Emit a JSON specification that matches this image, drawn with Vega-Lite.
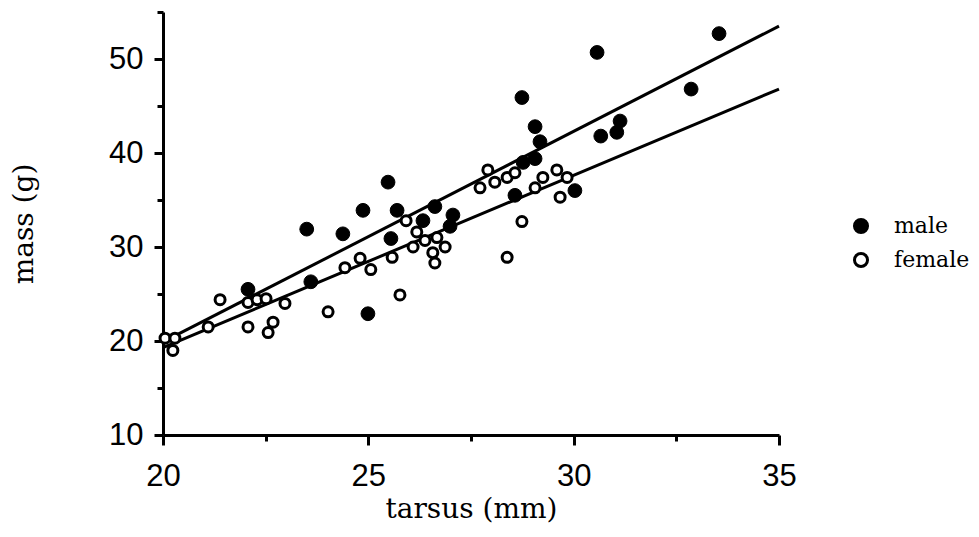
{
  "$schema": "https://vega.github.io/schema/vega-lite/v6.json",
  "autosize": "none",
  "padding": {"left": 163, "top": 12, "right": 200, "bottom": 102},
  "width": 616,
  "height": 423,
  "background": "white",
  "config": {
    "view": {"stroke": null},
    "axis": {
      "grid": false,
      "domainColor": "black",
      "domainWidth": 3,
      "tickColor": "black",
      "tickWidth": 3,
      "labelColor": "black",
      "titleColor": "black",
      "labelFont": "Liberation Sans",
      "labelFontSize": 31,
      "titleFont": "DejaVu Serif",
      "titleFontSize": 28,
      "titleFontWeight": "normal"
    }
  },
  "datasets": {
    "birds": [
      {"sex": "male", "tarsus": 22.07, "mass": 25.5},
      {"sex": "male", "tarsus": 23.5, "mass": 31.9},
      {"sex": "male", "tarsus": 23.6, "mass": 26.3},
      {"sex": "male", "tarsus": 24.38, "mass": 31.4},
      {"sex": "male", "tarsus": 24.87, "mass": 33.9},
      {"sex": "male", "tarsus": 24.99, "mass": 22.9},
      {"sex": "male", "tarsus": 25.48, "mass": 36.9},
      {"sex": "male", "tarsus": 25.55, "mass": 30.9},
      {"sex": "male", "tarsus": 25.7, "mass": 33.9},
      {"sex": "male", "tarsus": 26.33, "mass": 32.8},
      {"sex": "male", "tarsus": 26.62, "mass": 34.3},
      {"sex": "male", "tarsus": 27.06, "mass": 33.4},
      {"sex": "male", "tarsus": 26.99, "mass": 32.2},
      {"sex": "male", "tarsus": 28.57, "mass": 35.5},
      {"sex": "male", "tarsus": 28.77, "mass": 39.0},
      {"sex": "male", "tarsus": 28.74, "mass": 45.9},
      {"sex": "male", "tarsus": 29.06, "mass": 42.8},
      {"sex": "male", "tarsus": 29.18, "mass": 41.2},
      {"sex": "male", "tarsus": 29.06, "mass": 39.4},
      {"sex": "male", "tarsus": 30.03, "mass": 36.0},
      {"sex": "male", "tarsus": 30.57, "mass": 50.7},
      {"sex": "male", "tarsus": 30.66, "mass": 41.8},
      {"sex": "male", "tarsus": 31.05, "mass": 42.2},
      {"sex": "male", "tarsus": 31.13, "mass": 43.4},
      {"sex": "male", "tarsus": 32.86, "mass": 46.8},
      {"sex": "male", "tarsus": 33.54, "mass": 52.7},
      {"sex": "female", "tarsus": 20.05, "mass": 20.3},
      {"sex": "female", "tarsus": 20.29, "mass": 20.3},
      {"sex": "female", "tarsus": 20.24, "mass": 19.0},
      {"sex": "female", "tarsus": 21.1, "mass": 21.5},
      {"sex": "female", "tarsus": 21.39, "mass": 24.4},
      {"sex": "female", "tarsus": 22.07, "mass": 21.5},
      {"sex": "female", "tarsus": 22.07, "mass": 24.1},
      {"sex": "female", "tarsus": 22.29, "mass": 24.4},
      {"sex": "female", "tarsus": 22.51, "mass": 24.5},
      {"sex": "female", "tarsus": 22.68, "mass": 22.0},
      {"sex": "female", "tarsus": 22.56, "mass": 20.9},
      {"sex": "female", "tarsus": 22.97, "mass": 24.0},
      {"sex": "female", "tarsus": 24.02, "mass": 23.1},
      {"sex": "female", "tarsus": 24.43, "mass": 27.8},
      {"sex": "female", "tarsus": 24.8, "mass": 28.8},
      {"sex": "female", "tarsus": 25.06, "mass": 27.6},
      {"sex": "female", "tarsus": 25.58, "mass": 28.9},
      {"sex": "female", "tarsus": 25.77, "mass": 24.9},
      {"sex": "female", "tarsus": 25.92, "mass": 32.8},
      {"sex": "female", "tarsus": 26.18, "mass": 31.6},
      {"sex": "female", "tarsus": 26.09, "mass": 30.0},
      {"sex": "female", "tarsus": 26.38, "mass": 30.7},
      {"sex": "female", "tarsus": 26.67, "mass": 31.0},
      {"sex": "female", "tarsus": 26.87, "mass": 30.0},
      {"sex": "female", "tarsus": 26.57, "mass": 29.4},
      {"sex": "female", "tarsus": 26.62, "mass": 28.3},
      {"sex": "female", "tarsus": 27.72, "mass": 36.3},
      {"sex": "female", "tarsus": 27.91, "mass": 38.2},
      {"sex": "female", "tarsus": 28.08, "mass": 36.9},
      {"sex": "female", "tarsus": 28.38, "mass": 37.4},
      {"sex": "female", "tarsus": 28.57, "mass": 37.9},
      {"sex": "female", "tarsus": 28.38, "mass": 28.9},
      {"sex": "female", "tarsus": 28.74, "mass": 32.7},
      {"sex": "female", "tarsus": 29.06, "mass": 36.3},
      {"sex": "female", "tarsus": 29.25, "mass": 37.4},
      {"sex": "female", "tarsus": 29.59, "mass": 38.2},
      {"sex": "female", "tarsus": 29.84, "mass": 37.4},
      {"sex": "female", "tarsus": 29.67, "mass": 35.3}
    ],
    "fits": [
      {"sex": "male", "tarsus": 20, "mass": 19.9},
      {"sex": "male", "tarsus": 35, "mass": 53.5},
      {"sex": "female", "tarsus": 20, "mass": 19.3},
      {"sex": "female", "tarsus": 35, "mass": 46.8}
    ]
  },
  "encoding": {
    "x": {
      "field": "tarsus",
      "type": "quantitative",
      "scale": {"domain": [20, 35], "nice": false, "zero": false},
      "axis": {
        "values": [20, 22.5, 25, 27.5, 30, 32.5, 35],
        "labelExpr": "datum.value % 5 === 0 ? datum.label : ''",
        "tickSize": {"condition": {"test": "datum.value % 5 !== 0", "value": 6}, "value": 10},
        "labelPadding": 16,
        "labelFlush": false,
        "labelOverlap": false,
        "title": "tarsus (mm)",
        "titlePadding": 4
      }
    },
    "y": {
      "field": "mass",
      "type": "quantitative",
      "scale": {"domain": [10, 55], "nice": false, "zero": false},
      "axis": {
        "values": [10, 15, 20, 25, 30, 35, 40, 45, 50, 55],
        "labelExpr": "datum.value % 10 === 0 ? datum.label : ''",
        "tickSize": {"condition": {"test": "datum.value % 10 !== 0", "value": 6}, "value": 9},
        "labelPadding": 11,
        "labelFlush": false,
        "labelOverlap": false,
        "title": "mass (g)",
        "titlePadding": 70
      }
    }
  },
  "layer": [
    {
      "data": {"name": "fits"},
      "mark": {"type": "line", "color": "black", "strokeWidth": 3},
      "encoding": {"detail": {"field": "sex", "type": "nominal"}}
    },
    {
      "data": {"name": "birds"},
      "mark": {"type": "circle", "stroke": "black", "opacity": 1},
      "encoding": {
        "fill": {
          "field": "sex",
          "type": "nominal",
          "scale": {"domain": ["male", "female"], "range": ["black", "white"]},
          "legend": {
            "title": null,
            "orient": "none",
            "legendX": 687,
            "legendY": 203,
            "padding": 0,
            "symbolType": "circle",
            "symbolSize": 170,
            "symbolStrokeColor": "black",
            "symbolStrokeWidth": 3,
            "labelFont": "DejaVu Serif",
            "labelFontSize": 22,
            "labelColor": "black",
            "labelOffset": 22,
            "rowPadding": 8
          }
        },
        "size": {"condition": {"test": "datum.sex === 'male'", "value": 190}, "value": 100},
        "strokeWidth": {"condition": {"test": "datum.sex === 'male'", "value": 1}, "value": 3}
      }
    }
  ]
}
